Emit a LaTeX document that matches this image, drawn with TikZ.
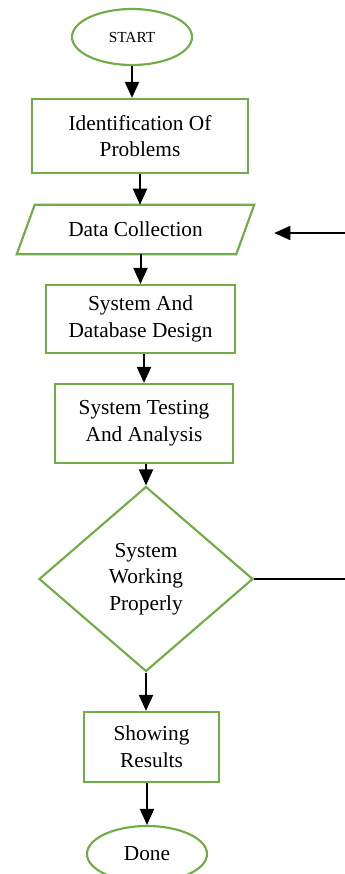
\documentclass[tikz,border=0pt]{standalone}
\usepackage{fontspec}
\setmainfont{Liberation Serif}
\usepackage{xcolor}
\usetikzlibrary{shapes.geometric, arrows.meta}
\definecolor{boxgreen}{HTML}{70AD47}

\begin{document}
\begin{tikzpicture}[x=0.75pt,y=-0.75pt,
  every node/.style={font=\fontsize{16}{20}\selectfont, align=center, inner sep=0pt},
  edge/.style={draw=boxgreen, line width=1.6pt},
  box/.style={edge, rectangle},
  term/.style={edge, ellipse, minimum width=90pt, minimum height=42pt},
  decide/.style={edge, diamond, minimum width=160.5pt, minimum height=138.75pt},
  flow/.style={-{Triangle[width=10.5pt,length=12pt]}, line width=1.5pt}]
  \useasboundingbox (0,0) rectangle (345,874);

  \node[term, font=\fontsize{11.5}{14}\selectfont] (start) at (132,37) {START};
  \node[box, minimum width=162pt, minimum height=55.5pt] (ident) at (140,136) {Identification Of\\Problems};
  \node[minimum width=164.25pt, minimum height=36.75pt] (data) at (135.5,229.5) {Data Collection};
  \node[box, minimum width=141.75pt, minimum height=51pt] (design) at (140.5,319) {System And\\Database Design};
  \node[box, minimum width=133.5pt, minimum height=59.25pt] (testing) at (144,423.5) {System Testing\\And Analysis};
  \node[decide] (working) at (146,579) {System\\Working\\Properly};
  \node[box, minimum width=101.25pt, minimum height=52.5pt] (results) at (151.5,747) {Showing\\Results};
  \node[term] (done) at (147,854) {Done};

  % slanted input box round the data node
  \draw[edge, line join=miter] ([xshift=6.75pt]data.north west) -- ([xshift=6.75pt]data.north east)
    -- ([xshift=-6.75pt]data.south east) -- ([xshift=-6.75pt]data.south west) -- cycle;

  % main flow
  \draw[flow] (start.south) -- (start.south |- ident.north);
  \draw[flow] (ident.south) -- (ident.south |- data.north);
  \draw[flow] (design.north |- data.south) -- (design.north);
  \draw[flow] (testing.north |- design.south) -- (testing.north);
  \draw[flow] (working.north |- testing.south) -- (working.north);
  \draw[flow] (working.south) -- (working.south |- results.north);
  \draw[flow] (done.north |- results.south) -- (done.north);

  % loop back when the test fails
  \coordinate (loopout) at (345,579);
  \coordinate (loopin) at (345,233);
  \draw[line width=1.1pt] (working.east) -- (loopout);
  \draw[flow, line width=1.2pt, shorten >=21.75pt] (loopin) -- (loopin -| data.east);
\end{tikzpicture}
\end{document}
